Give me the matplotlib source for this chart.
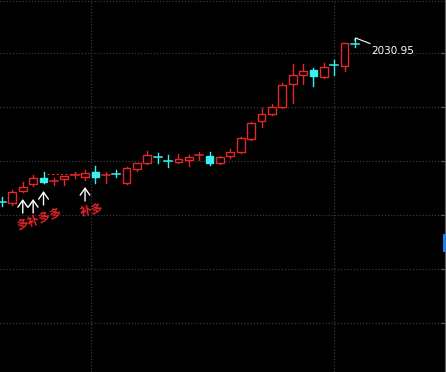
import matplotlib
matplotlib.use("Agg")
import matplotlib.pyplot as plt
from matplotlib.patches import Rectangle

plt.rcParams['font.family'] = ['Noto Sans CJK SC', 'DejaVu Sans']

# OHLC data (index points)
opens  = [1703.5, 1701, 1725, 1739, 1751, 1745, 1749, 1757, 1753, 1763, 1757, 1759,
          1741, 1769, 1781, 1793, 1785, 1783, 1787, 1797, 1795, 1781, 1795, 1803,
          1829, 1865, 1879, 1893, 1939, 1957, 1967, 1953, 1977, 1975, 2019.5]
highs  = [1713, 1727, 1743, 1757, 1763, 1751, 1755, 1763, 1767, 1775, 1763, 1767,
          1773, 1781, 1805, 1801, 1797, 1799, 1797, 1803, 1803, 1795, 1809, 1833,
          1863, 1891, 1899, 1941, 1979, 1979, 1971, 1981, 1987, 2021, 2030.95]
lows   = [1695, 1697, 1723, 1735, 1741, 1737, 1737, 1751, 1747, 1741, 1741, 1753,
          1739, 1765, 1779, 1781, 1773, 1781, 1775, 1787, 1777, 1779, 1791, 1801,
          1827, 1853, 1877, 1891, 1901, 1939, 1935, 1951, 1957, 1965, 2013]
closes = [1703, 1723, 1733, 1751, 1743, 1745, 1755, 1757, 1761, 1753, 1757, 1759,
          1771, 1781, 1797, 1793, 1785, 1789, 1793, 1797, 1781, 1793, 1803, 1831,
          1861, 1879, 1893, 1937, 1957, 1965, 1955, 1973, 1977, 2021, 2019]
# candles drawn as cyan (falling)
down_flags = [1, 0, 0, 0, 1, 0, 0, 0, 0, 1, 0, 1,
              0, 0, 0, 1, 1, 0, 0, 0, 1, 0, 0, 0,
              0, 0, 0, 0, 0, 0, 1, 0, 1, 0, 1]

peak_label = "2030.95"
arrow_idx = [2, 3, 4, 8]
arrow_tips = [1709, 1709, 1725, 1733]
arrow_tails = [1681, 1681, 1697, 1705]
note1 = "多补多多"
note2 = "补多"

RED = '#e8262a'
CYAN = '#38f0f0'
GRID = '#383838'

W, H = 446, 372
fig = plt.figure(figsize=(W / 100, H / 100), dpi=100, facecolor='black')
ax = fig.add_axes([0, 0, 1, 1])
ax.set_facecolor('black')
for s in ax.spines.values():
    s.set_visible(False)
ax.set_xticks([])
ax.set_yticks([])

px_per_bar = 10.38
x0 = 2.0
ax.set_xlim(-x0 / px_per_bar, (W - x0) / px_per_bar)
# price = 2107 - 2*y_pixel
ax.set_ylim(2107 - 2 * H, 2107)

# grid lines
for yp in [0.5, 53, 107, 161, 215, 269, 323]:
    ax.axhline(2107 - 2 * yp, color=GRID, lw=0.9, ls=(0, (1, 1.5)), zorder=0)
for xp in [91, 334]:
    ax.axvline((xp - x0) / px_per_bar, color=GRID, lw=0.9, ls=(0, (1, 1.5)), zorder=0)

# right border
bx = 444.5 / W
ax.plot([bx, bx], [0, 1], transform=ax.transAxes, color='#5a5a5a', lw=0.9, zorder=1)
for yp in [53, 107, 161, 215, 269, 323]:
    ax.plot([440.5 / W, bx], [1 - yp / H, 1 - yp / H], transform=ax.transAxes,
            color='#5a5a5a', lw=0.8)
ax.add_patch(Rectangle((443 / W, 1 - 252 / H), 4 / W, 18 / H, transform=ax.transAxes,
                       facecolor='#1e7ee8', edgecolor='none', zorder=3))

bw = 0.75
for i, (o, h, l, c, d) in enumerate(zip(opens, highs, lows, closes, down_flags)):
    col = CYAN if d else RED
    top, bot = max(o, c), min(o, c)
    if abs(o - c) < 1.5:
        ax.plot([i - bw / 2, i + bw / 2], [c, c], color=col, lw=1.1, zorder=3)
        ax.plot([i, i], [l, h], color=col, lw=1.0, zorder=3)
    else:
        ax.plot([i, i], [top, h], color=col, lw=1.0, zorder=3)
        ax.plot([i, i], [l, bot], color=col, lw=1.0, zorder=3)
        ax.add_patch(Rectangle((i - bw / 2, bot), bw, top - bot,
                               facecolor=(col if d else 'black'), edgecolor=col,
                               lw=1.0, zorder=4))

# red dashed line
ax.plot([4.3, 7.6], [1759, 1759], color=RED, lw=0.8, ls=(0, (2, 2)), zorder=2)

# arrows
for xi, tip, tail in zip(arrow_idx, arrow_tips, arrow_tails):
    ax.annotate('', xy=(xi, tip), xytext=(xi, tail),
                arrowprops=dict(arrowstyle='->,head_length=0.5,head_width=0.35',
                                color='white', lw=1.0,
                                mutation_scale=10, shrinkA=0, shrinkB=0))

ax.text(3.56, 1669, note1, color=RED, fontsize=8.5, fontweight='bold',
        rotation=18, ha='center', va='center')
ax.text(8.67, 1685, note2, color=RED, fontsize=8.5, fontweight='bold',
        rotation=10, ha='center', va='center')

# peak annotation
last = len(highs) - 1
ax.plot([last, last + 0.08, last + 1.45], [highs[-1] - 4, highs[-1], highs[-1] - 11],
        color='white', lw=0.8, zorder=5)
ax.text(last + 1.55, highs[-1] - 26, peak_label, color='white', fontsize=7.5,
        ha='left', va='center', family='DejaVu Sans')

fig.savefig('out.png', dpi=100, facecolor='black')
